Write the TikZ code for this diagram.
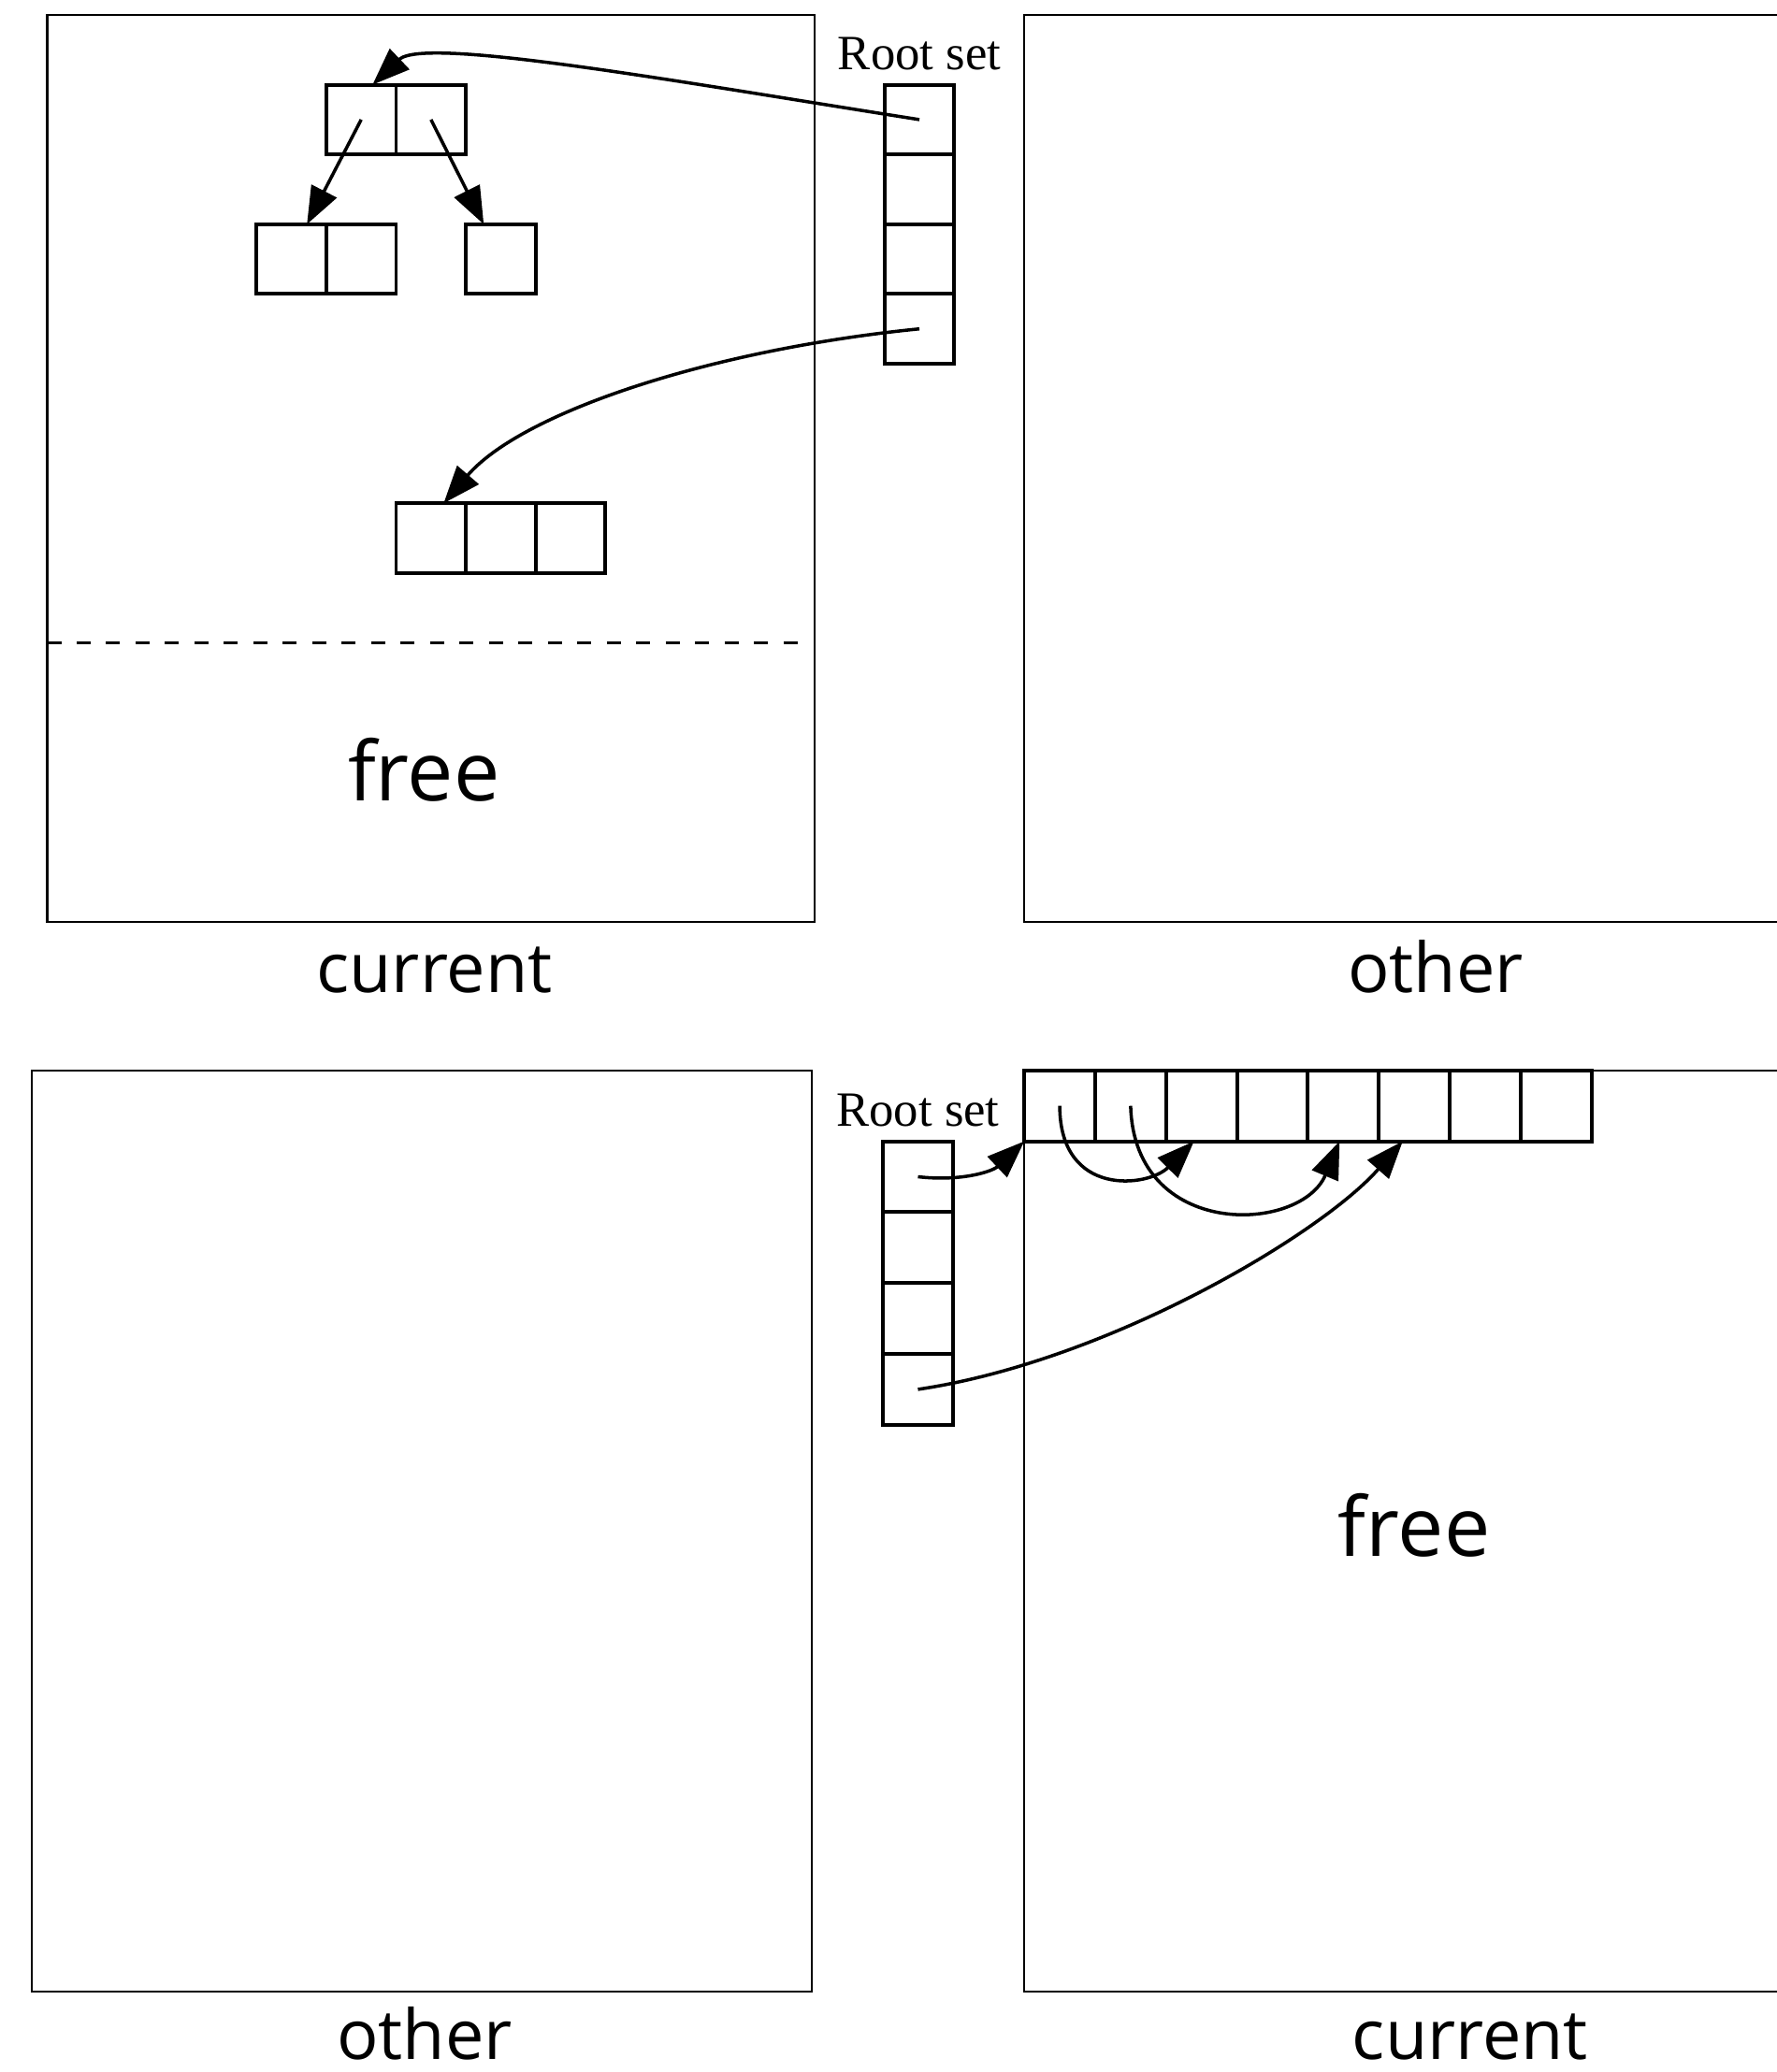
\documentclass[tikz,border=0pt]{standalone}
\usepackage{fontspec}
\setmainfont{Liberation Serif}
\newfontfamily\areafont{Open Sans}
\usetikzlibrary{arrows.meta}

\begin{document}
\begin{tikzpicture}[
  cell/.style={draw, line width=1.1pt, inner sep=0pt, outer sep=0pt},
  space/.style={draw, line width=0.65pt},
  ptr/.style={-{Triangle[length=0.4cm,width=0.3cm]}, line width=1pt},
  area/.style={font=\areafont\fontsize{21}{25}\selectfont, anchor=base, inner sep=0pt},
  freelbl/.style={area, font=\areafont\fontsize{25}{30}\selectfont},
  rootlbl/.style={font=\fontsize{15}{17}\selectfont, anchor=base, inner sep=0pt}]

\useasboundingbox (0,0) rectangle (19,-22.16);

%% before the collection
\begin{scope}[shift={(0.505cm,-0.16cm)}, x=0.746cm, y=0.746cm,
              cell/.append style={minimum size=7.46mm}]
\draw[space] (0,0) rectangle (11,-13);
\draw[space] (14,0) rectangle (25,-13);
\draw[line width=0.75pt, dash pattern=on 0.15cm off 0.165cm] (0,-9) -- (10.85,-9);

\node[rootlbl] (rsA) at (12.5,-0.78) {Root set};
\foreach \i in {1,...,4}
  \node[cell] (ra\i) at (12.5,{-0.5-\i}) {};

% live objects
\node[cell] (p1) at (4.5,-1.5) {};
\node[cell] (p2) at (5.5,-1.5) {};
\node[cell] (q1) at (3.5,-3.5) {};
\node[cell] (q2) at (4.5,-3.5) {};
\node[cell] (s1) at (6.5,-3.5) {};
\node[cell] (t1) at (5.5,-7.5) {};
\node[cell] (t2) at (6.5,-7.5) {};
\node[cell] (t3) at (7.5,-7.5) {};

\draw[ptr] (ra1.center) .. controls (9,-0.95) and (5.4,-0.3) .. (p1.72);
\draw[ptr] (p1.center) -- (q1.66);
\draw[ptr] (p2.center) -- (s1.116);
\draw[ptr] (ra4.center) .. controls (9.5,-4.8) and (6.8,-5.7) .. (t1.70);

\node[freelbl] (freeA) at (5.4,-11.27) {free};
\node[area] (curA) at (5.55,-14.02) {current};
\node[area] (othA) at (19.9,-14.02) {other};
\end{scope}

%% after the copy
\begin{scope}[shift={(0.34cm,-11.448cm)}, x=0.758cm, y=0.758cm,
              cell/.append style={minimum size=7.58mm}]
\draw[space] (0,0) rectangle (11,-13);
\draw[space] (14,0) rectangle (25,-13);

\node[rootlbl] (rsB) at (12.5,-0.79) {Root set};
\foreach \i in {1,...,4}
  \node[cell] (rb\i) at (12.5,{-0.5-\i}) {};
\foreach \i in {1,...,8}
  \node[cell] (c\i) at ({13.5+\i},-0.5) {};

\draw[ptr] (rb1.center) to[bend right=25] (c1.south west);
\draw[ptr] (c1.center) .. controls (14.5,-1.8) and (15.75,-1.65) .. (c3.258);
\draw[ptr] (c2.center) .. controls (15.55,-2.4) and (17.9,-2.3) .. (c5.264);
\draw[ptr] (rb4.center) .. controls (15.2,-4.1) and (18.2,-2.3) .. (c6.252);

\node[freelbl] (freeB) at (19.5,-6.86) {free};
\node[area] (othB) at (5.54,-13.96) {other};
\node[area] (curB) at (20.29,-13.96) {current};
\end{scope}
\end{tikzpicture}
\end{document}
